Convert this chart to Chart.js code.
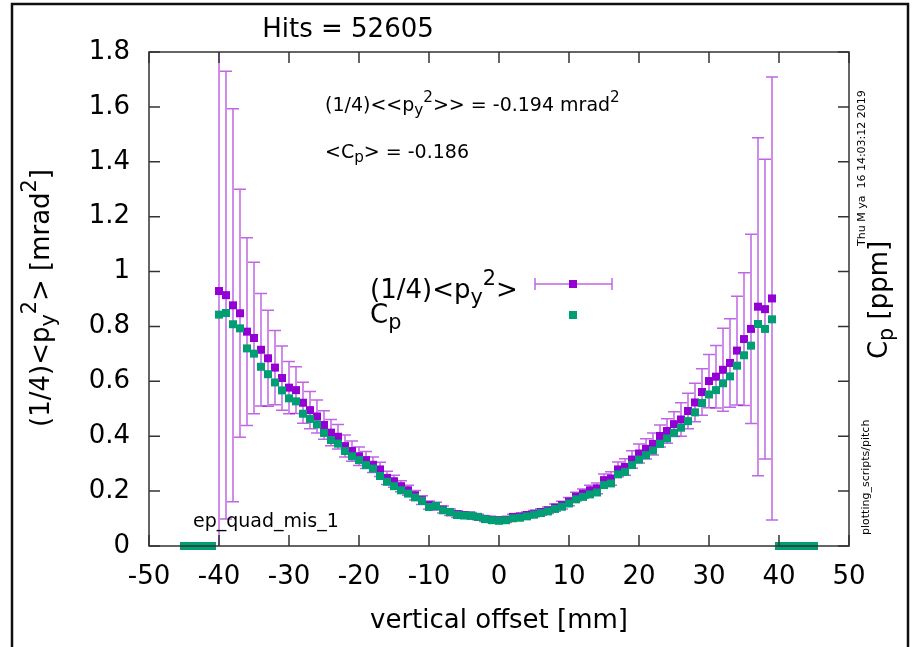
<!DOCTYPE html>
<html lang="en">
<head>
<meta charset="UTF-8">
<title>ep_quad_mis_1 pitch</title>
<script src="https://cdn.jsdelivr.net/npm/chart.js"></script>
<style>
  html, body { margin: 0; padding: 0; background: #fff; }
  #wrap { position: relative; width: 912px; height: 647px; }
</style>
</head>
<body>
<div id="wrap"><canvas id="chart" width="912" height="647"></canvas></div>
<script>
// vertical offset bins [mm]
const offsets = [-40, -39, -38, -37, -36, -35, -34, -33, -32, -31, -30, -29, -28, -27, -26, -25, -24, -23, -22, -21,
                 -20, -19, -18, -17, -16, -15, -14, -13, -12, -11, -10, -9, -8, -7, -6, -5, -4, -3, -2, -1,
                 0, 1, 2, 3, 4, 5, 6, 7, 8, 9, 10, 11, 12, 13, 14, 15, 16, 17, 18, 19,
                 20, 21, 22, 23, 24, 25, 26, 27, 28, 29, 30, 31, 32, 33, 34, 35, 36, 37, 38, 39];

// (1/4)<py^2> [mrad^2]
const py2 = [0.929, 0.914, 0.877, 0.848, 0.781, 0.758, 0.715, 0.684, 0.650, 0.612, 0.577, 0.568, 0.522, 0.495, 0.472, 0.441, 0.413, 0.398, 0.364, 0.346,
             0.327, 0.313, 0.296, 0.279, 0.248, 0.236, 0.218, 0.203, 0.185, 0.167, 0.149, 0.145, 0.133, 0.123, 0.116, 0.113, 0.111, 0.106, 0.099, 0.096,
             0.094, 0.096, 0.106, 0.108, 0.113, 0.118, 0.124, 0.130, 0.140, 0.149, 0.162, 0.180, 0.191, 0.203, 0.210, 0.240, 0.246, 0.279, 0.288, 0.315,
             0.337, 0.354, 0.372, 0.401, 0.419, 0.444, 0.461, 0.492, 0.523, 0.561, 0.601, 0.617, 0.642, 0.667, 0.712, 0.754, 0.791, 0.872, 0.863, 0.902];

// error on (1/4)<py^2>
const py2Err = [1.000, 0.816, 0.716, 0.452, 0.342, 0.276, 0.205, 0.175, 0.135, 0.117, 0.095, 0.085, 0.075, 0.068, 0.060, 0.052, 0.048, 0.045, 0.040, 0.037,
                0.034, 0.031, 0.028, 0.026, 0.024, 0.022, 0.020, 0.018, 0.017, 0.016, 0.015, 0.014, 0.013, 0.012, 0.012, 0.011, 0.011, 0.010, 0.010, 0.010,
                0.010, 0.010, 0.010, 0.010, 0.011, 0.011, 0.012, 0.012, 0.013, 0.014, 0.015, 0.016, 0.017, 0.018, 0.020, 0.022, 0.025, 0.027, 0.030, 0.032,
                0.035, 0.037, 0.040, 0.040, 0.045, 0.045, 0.061, 0.065, 0.070, 0.085, 0.097, 0.114, 0.151, 0.161, 0.198, 0.242, 0.345, 0.616, 0.546, 0.807];

// Cp [ppm]
const cp = [0.843, 0.849, 0.808, 0.793, 0.720, 0.701, 0.653, 0.626, 0.596, 0.567, 0.538, 0.527, 0.482, 0.463, 0.443, 0.412, 0.386, 0.373, 0.346, 0.327,
            0.313, 0.295, 0.282, 0.255, 0.234, 0.218, 0.203, 0.191, 0.177, 0.164, 0.142, 0.146, 0.130, 0.124, 0.113, 0.111, 0.110, 0.106, 0.098, 0.094,
            0.092, 0.094, 0.101, 0.103, 0.108, 0.114, 0.120, 0.126, 0.135, 0.143, 0.155, 0.170, 0.179, 0.188, 0.195, 0.222, 0.228, 0.261, 0.270, 0.295,
            0.315, 0.331, 0.348, 0.372, 0.392, 0.412, 0.431, 0.455, 0.487, 0.521, 0.552, 0.568, 0.593, 0.618, 0.657, 0.695, 0.730, 0.809, 0.791, 0.826];

// empty bins outside the aperture
const edgeOffsets = [-45, -44, -43, -42, -41, 40, 41, 42, 43, 44, 45];
const edgeCp = [0, 0, 0, 0, 0, 0, 0, 0, 0, 0, 0];

const xTicks = [-50, 50, 10];
const yTicks = [0, 1.8, 0.2];

const FONT = '"DejaVu Sans", sans-serif';
const PURPLE = '#9400d3';
const GREEN = '#009e73';
const BAR = 'rgba(148, 0, 211, 0.6)';

const py2Points = offsets.map((x, i) => ({ x: x, y: py2[i] }));
const cpPoints = offsets.map((x, i) => ({ x: x, y: cp[i] }))
    .concat(edgeOffsets.map((x, i) => ({ x: x, y: edgeCp[i] })));

// text with sub/superscripts: plain strings, ['_', 'y'] or ['^', '2']
function richText(ctx, parts, x, y, size, align, angle) {
    ctx.save();
    ctx.translate(x, y);
    ctx.rotate(angle || 0);
    ctx.textBaseline = 'middle';
    ctx.textAlign = 'left';
    ctx.fillStyle = '#000';
    let w = 0;
    const items = parts.map(p => {
        const small = Array.isArray(p);
        const fs = small ? size * 0.8 : size;
        ctx.font = fs + 'px ' + FONT;
        const t = small ? p[1] : p;
        const tw = ctx.measureText(t).width;
        w += tw;
        return { t, fs, tw, dy: small ? (p[0] === '_' ? size * 0.28 : -size * 0.42) : 0 };
    });
    let cx = align === 'center' ? -w / 2 : (align === 'right' ? -w : 0);
    items.forEach(it => {
        ctx.font = it.fs + 'px ' + FONT;
        ctx.fillText(it.t, cx, it.dy);
        cx += it.tw;
    });
    ctx.restore();
}

function square(ctx, x, y, color) {
    ctx.fillStyle = color;
    ctx.fillRect(x - 4, y - 4, 8, 8);
}

const decor = {
    id: 'decor',
    beforeDatasetsDraw(chart) {
        const { ctx, chartArea: a, scales: { x, y } } = chart;
        ctx.save();
        ctx.beginPath();
        ctx.rect(a.left, a.top, a.right - a.left, a.bottom - a.top);
        ctx.clip();
        ctx.strokeStyle = BAR;
        ctx.lineWidth = 1.5;
        offsets.forEach((o, i) => {
            const px = x.getPixelForValue(o);
            const hi = y.getPixelForValue(py2[i] + py2Err[i]);
            const lo = y.getPixelForValue(py2[i] - py2Err[i]);
            ctx.beginPath();
            ctx.moveTo(px, hi); ctx.lineTo(px, lo);
            ctx.moveTo(px - 6, hi); ctx.lineTo(px + 6, hi);
            ctx.moveTo(px - 6, lo); ctx.lineTo(px + 6, lo);
            ctx.stroke();
        });
        ctx.restore();
    },
    afterDraw(chart) {
        const { ctx, chartArea: a, scales: { x, y } } = chart;
        ctx.save();

        // outer page frame
        ctx.strokeStyle = '#111';
        ctx.lineWidth = 2.5;
        ctx.beginPath();
        ctx.moveTo(12, 648); ctx.lineTo(12, 4); ctx.lineTo(908, 4); ctx.lineTo(908, 648);
        ctx.stroke();

        // plot border and inward ticks
        ctx.strokeStyle = '#333';
        ctx.lineWidth = 1.5;
        ctx.strokeRect(a.left, a.top, a.right - a.left, a.bottom - a.top);
        ctx.beginPath();
        x.ticks.forEach(t => {
            const px = x.getPixelForValue(t.value);
            ctx.moveTo(px, a.bottom); ctx.lineTo(px, a.bottom - 11);
            ctx.moveTo(px, a.top); ctx.lineTo(px, a.top + 11);
        });
        y.ticks.forEach(t => {
            const py = y.getPixelForValue(t.value);
            ctx.moveTo(a.left, py); ctx.lineTo(a.left + 11, py);
            ctx.moveTo(a.right, py); ctx.lineTo(a.right - 11, py);
        });
        ctx.stroke();

        // titles and labels
        richText(ctx, ['Hits = 52605'], 348, 30, 26, 'center');
        richText(ctx, ['(1/4)<p', ['_', 'y'], ['^', '2'], '> [mrad', ['^', '2'], ']'], 42, 298, 26, 'center', -Math.PI / 2);
        richText(ctx, ['C', ['_', 'p'], ' [ppm]'], 880, 300, 26, 'center', -Math.PI / 2);
        richText(ctx, ['(1/4)<<p', ['_', 'y'], ['^', '2'], '>> = -0.194 mrad', ['^', '2']], 325, 106, 19, 'left');
        richText(ctx, ['<C', ['_', 'p'], '> = -0.186'], 325, 153, 19, 'left');
        richText(ctx, ['ep_quad_mis_1'], 193, 522, 19, 'left');
        richText(ctx, ['Thu M ya  16 14:03:12 2019'], 862, 246, 11, 'left', -Math.PI / 2);
        richText(ctx, ['plotting_scripts/pitch'], 866, 535, 11, 'left', -Math.PI / 2);

        // key
        richText(ctx, ['(1/4)<p', ['_', 'y'], ['^', '2'], '>'], 370, 291, 26, 'left');
        richText(ctx, ['C', ['_', 'p']], 370, 316, 26, 'left');
        ctx.strokeStyle = BAR;
        ctx.lineWidth = 1.5;
        ctx.beginPath();
        ctx.moveTo(535, 284); ctx.lineTo(612, 284);
        ctx.moveTo(535, 278); ctx.lineTo(535, 290);
        ctx.moveTo(612, 278); ctx.lineTo(612, 290);
        ctx.stroke();
        square(ctx, 573, 284, PURPLE);
        square(ctx, 573, 315, GREEN);
        ctx.restore();
    }
};

new Chart(document.getElementById('chart'), {
    type: 'scatter',
    data: {
        datasets: [{
            label: 'Cp',
            data: cpPoints,
            order: 0,
            backgroundColor: GREEN,
            pointStyle: 'rect',
            pointRadius: 5.66,
            borderWidth: 0,
            clip: false
        }, {
            label: '(1/4)<py2>',
            data: py2Points,
            order: 1,
            backgroundColor: PURPLE,
            pointStyle: 'rect',
            pointRadius: 5.66,
            borderWidth: 0
        }]
    },
    options: {
        responsive: false,
        animation: false,
        layout: { padding: { top: 52, left: 0, right: 0, bottom: 0 } },
        plugins: { legend: { display: false }, tooltip: { enabled: false } },
        scales: {
            x: {
                type: 'linear',
                min: xTicks[0], max: xTicks[1],
                ticks: { stepSize: xTicks[2], color: '#000', font: { family: FONT, size: 26 }, padding: 16, maxRotation: 0 },
                grid: { display: false, drawTicks: false },
                border: { display: false },
                title: { display: true, text: 'vertical offset [mm]', color: '#000', font: { family: FONT, size: 26 }, padding: { top: 0, bottom: 10 } },
                afterFit(s) { s.height = 101; }
            },
            y: {
                min: yTicks[0], max: yTicks[1],
                ticks: {
                    stepSize: yTicks[2], color: '#000', font: { family: FONT, size: 26 }, padding: 19,
                    callback: v => String(Number(v.toFixed(1)))
                },
                grid: { display: false, drawTicks: false },
                border: { display: false },
                afterFit(s) { s.width = 149; }
            },
            y2: {
                position: 'right',
                min: yTicks[0], max: yTicks[1],
                ticks: { display: false },
                grid: { display: false, drawTicks: false },
                border: { display: false },
                afterFit(s) { s.width = 63; }
            }
        }
    },
    plugins: [decor]
});
</script>
</body>
</html>
